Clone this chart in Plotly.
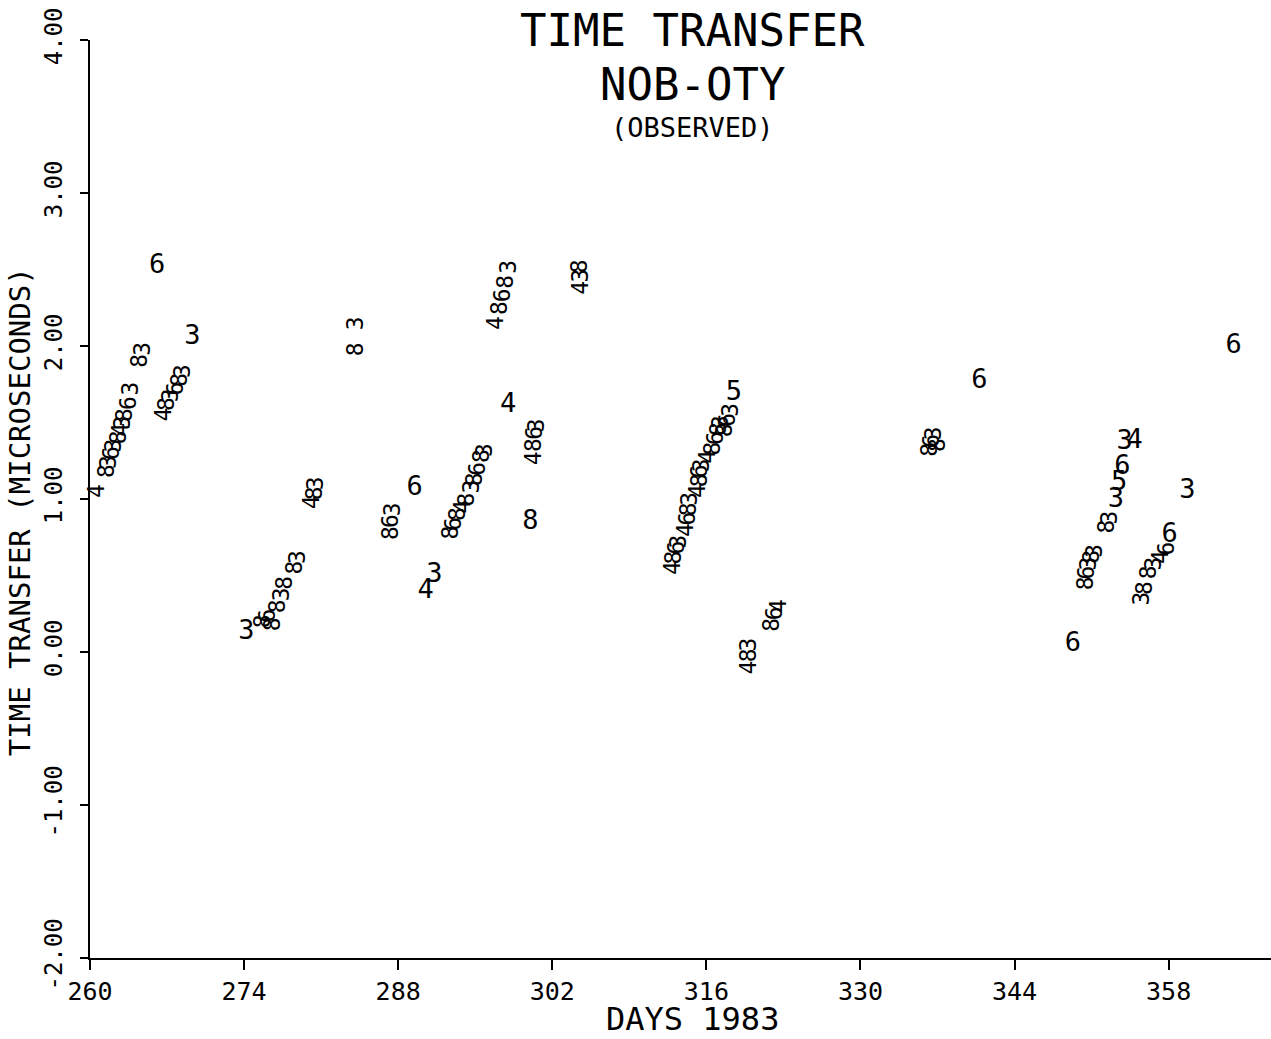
import plotly.graph_objects as go

# ---- data ----
# upright plotted characters
upright_days = [269.3, 266.1, 274.2, 289.5, 290.5, 291.3, 298.0, 300.0, 318.5,
                340.8, 349.3, 353.2, 353.5, 353.8, 354.0, 354.9, 358.1, 359.7, 363.9]
upright_vals = [2.06, 2.52, 0.13, 1.07, 0.40, 0.50, 1.61, 0.85, 1.69,
                1.77, 0.05, 0.99, 1.10, 1.21, 1.37, 1.38, 0.76, 1.05, 2.00]
upright_labels = ["3", "6", "3", "6", "4", "3", "4", "8", "5",
                  "6", "6", "3", "5", "6", "3", "4", "6", "3", "6"]

# sideways plotted characters (clustered observations)
side_days = [260.6, 261.5, 261.7, 261.9, 262.1, 262.5, 262.7, 262.9, 263.1, 263.4, 263.6,
             264.5, 264.7, 266.6, 266.9, 267.3, 267.7, 268.1, 268.4,
             275.7, 276.1, 276.6, 277.0, 277.3, 277.6, 278.5, 278.8,
             280.1, 280.3, 280.4, 284.1, 284.1, 287.2, 287.3, 287.4,
             292.7, 293.0, 293.4, 293.8, 294.2, 294.6, 294.9, 295.2, 295.5, 295.8,
             296.8, 297.1, 297.4, 297.7, 298.0,
             300.2, 300.3, 300.4, 300.5, 304.5, 304.5, 304.5,
             312.9, 313.0, 313.2, 313.4, 314.0, 314.2, 314.3, 314.4,
             315.2, 315.3, 315.4, 315.5, 316.1, 316.5, 316.8, 317.0, 317.2,
             317.6, 317.9, 318.2,
             319.8, 319.8, 319.8, 321.9, 322.1, 322.5,
             336.2, 336.4, 336.6, 337.0,
             350.4, 350.5, 350.7, 351.0, 351.2, 352.3, 352.6,
             355.5, 355.7, 356.2, 356.6, 357.2, 357.8]
side_vals = [1.05, 1.18, 1.24, 1.30, 1.35, 1.40, 1.45, 1.50, 1.55, 1.63, 1.72,
             1.90, 1.98, 1.55, 1.62, 1.68, 1.72, 1.78, 1.84,
             0.20, 0.24, 0.18, 0.30, 0.38, 0.45, 0.55, 0.62,
             0.98, 1.04, 1.10, 2.15, 1.98, 0.78, 0.86, 0.93,
             0.78, 0.84, 0.90, 0.95, 1.00, 1.08, 1.13, 1.20, 1.28, 1.32,
             2.15, 2.25, 2.33, 2.42, 2.52,
             1.27, 1.35, 1.43, 1.48, 2.38, 2.46, 2.52,
             0.55, 0.62, 0.68, 0.72, 0.80, 0.87, 0.93, 1.00,
             1.05, 1.12, 1.18, 1.22, 1.28, 1.33, 1.40, 1.46, 1.50,
             1.45, 1.52, 1.58,
             -0.10, -0.02, 0.05, 0.18, 0.25, 0.30,
             1.32, 1.38, 1.43, 1.35,
             0.45, 0.52, 0.58, 0.62, 0.66, 0.82, 0.88,
             0.35, 0.42, 0.52, 0.58, 0.62, 0.68]
side_labels = ["4", "8", "3", "6", "3", "8", "4", "3", "8", "6", "3",
               "8", "3", "4", "8", "3", "6", "8", "3",
               "8", "6", "8", "8", "3", "8", "8", "3",
               "4", "8", "3", "3", "8", "8", "6", "3",
               "8", "6", "8", "4", "8", "3", "8", "6", "8", "3",
               "4", "8", "6", "8", "3",
               "4", "8", "6", "3", "4", "3", "8",
               "4", "8", "6", "3", "4", "6", "8", "3",
               "4", "8", "6", "3", "4", "8", "6", "8", "3",
               "8", "6", "3",
               "4", "8", "3", "8", "6", "4",
               "8", "6", "3", "8",
               "8", "6", "3", "8", "3", "8", "3",
               "3", "8", "8", "3", "4", "6"]

x_ticks = [260, 274, 288, 302, 316, 330, 344, 358]
y_ticks = [-2, -1, 0, 1, 2, 3, 4]

FONT = "DejaVu Sans Mono"

fig = go.Figure()
fig.add_trace(go.Scatter(
    x=upright_days, y=upright_vals, mode="text", text=upright_labels,
    textposition="middle center",
    textfont=dict(family=FONT, size=27, color="black"),
    hoverinfo="skip"))

for d, v, s in zip(side_days, side_vals, side_labels):
    fig.add_annotation(x=d, y=v, xref="x", yref="y", text=s, showarrow=False,
                       textangle=-90, font=dict(family=FONT, size=23, color="black"))

fig.add_annotation(x=0.51, y=1.0105, xref="paper", yref="paper", text="TIME TRANSFER",
                   showarrow=False, yanchor="middle",
                   font=dict(family=FONT, size=44, color="black"))
fig.add_annotation(x=0.51, y=0.952, xref="paper", yref="paper", text="NOB-OTY",
                   showarrow=False, yanchor="middle",
                   font=dict(family=FONT, size=44, color="black"))
fig.add_annotation(x=0.51, y=0.905, xref="paper", yref="paper", text="(OBSERVED)",
                   showarrow=False, yanchor="middle",
                   font=dict(family=FONT, size=27, color="black"))
# y-axis title
fig.add_annotation(x=-0.059, y=0.486, xref="paper", yref="paper",
                   text="TIME TRANSFER (MICROSECONDS)", showarrow=False,
                   textangle=-90, xanchor="center", yanchor="middle",
                   font=dict(family=FONT, size=29, color="black"))
# x-axis title
fig.add_annotation(x=0.51, y=-0.066, xref="paper", yref="paper",
                   text="DAYS 1983", showarrow=False,
                   xanchor="center", yanchor="middle",
                   font=dict(family=FONT, size=32, color="black"))

fig.update_layout(
    width=1271, height=1039,
    margin=dict(l=90, r=0, t=40, b=81),
    paper_bgcolor="white", plot_bgcolor="white",
    showlegend=False,
    xaxis=dict(range=[260, 367.3], tickvals=x_ticks, ticktext=[str(t) for t in x_ticks],
               showline=True, linecolor="black", linewidth=2, mirror=False,
               ticks="outside", ticklen=10, tickwidth=1.5, tickcolor="black",
               showgrid=False, zeroline=False, automargin=False,
               tickfont=dict(family=FONT, size=25, color="black")),
    yaxis=dict(range=[-2, 4], tickvals=y_ticks, ticktext=["%.2f" % t for t in y_ticks],
               tickangle=-90, ticklabelstandoff=8,
               showline=True, linecolor="black", linewidth=2,
               ticks="outside", ticklen=8, tickwidth=1.5, tickcolor="black",
               showgrid=False, zeroline=False, automargin=False,
               tickfont=dict(family=FONT, size=24, color="black")),
)

fig.write_html("out.html")
